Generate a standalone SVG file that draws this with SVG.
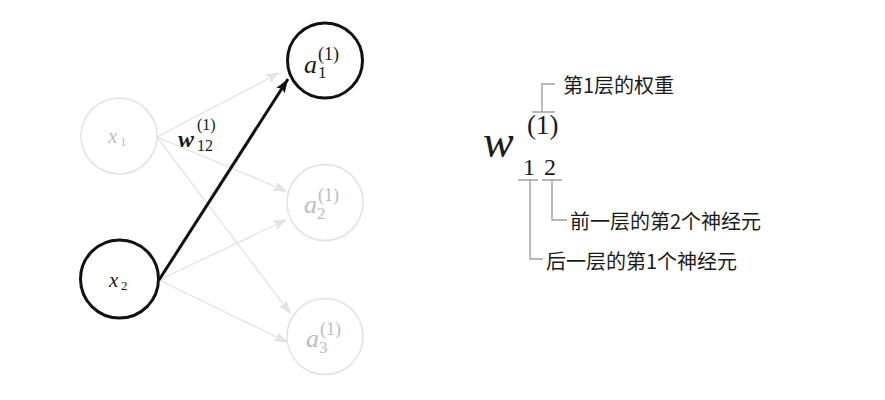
<svg xmlns="http://www.w3.org/2000/svg" width="885" height="400" viewBox="0 0 885 400">
  <style>
    .bg { fill: #ffffff; }
    .dark { fill: none; stroke: #111111; stroke-width: 3; }
    .light { fill: none; stroke: #e2e2e2; stroke-width: 1.5; }
    .edge { stroke: #e2e2e2; stroke-width: 1.3; fill: none; }
    .edge-bold { stroke: #111111; stroke-width: 3; fill: none; }
    .it { font-family: "Liberation Serif", "DejaVu Serif", serif; font-style: italic; }
    .rm { font-family: "Liberation Serif", "DejaVu Serif", serif; }
    .lt { fill: #bdbdbd; }
    .dk { fill: #1a1a1a; }
    .cjk { font-family: "Noto Sans CJK SC", "Noto Sans", sans-serif; font-size: 20px; fill: #1a1a1a; dominant-baseline: central; }
    .guide { stroke: #a0a0a0; stroke-width: 1.4; fill: none; }
  </style>
  <defs>
    <marker id="arrLight" markerUnits="userSpaceOnUse" markerWidth="14" markerHeight="10" refX="12" refY="5" orient="auto">
      <path d="M0,0.8 L12,5 L0,9.2 L3,5 Z" fill="#e6e6e6" stroke="#dcdcdc" stroke-width="0.8"/>
    </marker>
    <marker id="arrDark" markerUnits="userSpaceOnUse" markerWidth="16" markerHeight="12" refX="14" refY="6" orient="auto">
      <path d="M0,1 L14,6 L0,11 L3,6 Z" fill="#111111"/>
    </marker>
  </defs>
  <rect class="bg" x="0" y="0" width="885" height="400"/>

  <g id="connectors">
    <line class="edge" x1="157" y1="137" x2="279" y2="73" marker-end="url(#arrLight)"/>
    <line class="edge" x1="157" y1="137" x2="286" y2="191" marker-end="url(#arrLight)"/>
    <line class="edge" x1="157" y1="137" x2="290" y2="313" marker-end="url(#arrLight)"/>
    <line class="edge" x1="159" y1="280" x2="286" y2="220" marker-end="url(#arrLight)"/>
    <line class="edge" x1="159" y1="280" x2="287" y2="342" marker-end="url(#arrLight)"/>
    <line class="edge-bold" x1="159" y1="280" x2="288" y2="79" marker-end="url(#arrDark)"/>
  </g>

  <g id="w12-label">
    <text class="it dk" x="178" y="147" font-size="24" font-weight="bold">w</text>
    <text class="rm dk" x="197" y="130" font-size="16">(1)</text>
    <text class="rm dk" x="197" y="151" font-size="16">12</text>
  </g>

  <g id="node-x1">
    <circle class="light" cx="119" cy="136" r="38"/>
    <text class="it lt" x="108" y="143" font-size="21">x</text>
    <text class="rm lt" x="120" y="146" font-size="13">1</text>
  </g>
  <g id="node-x2">
    <circle class="dark" cx="119.5" cy="279" r="39"/>
    <text class="it dk" x="109" y="287" font-size="21">x</text>
    <text class="rm dk" x="121" y="290" font-size="13">2</text>
  </g>
  <g id="node-a1">
    <circle class="dark" cx="325" cy="60.5" r="37.5"/>
    <text class="it dk" x="304" y="73" font-size="26">a</text>
    <text class="rm dk" x="318" y="60" font-size="18">(1)</text>
    <text class="rm dk" x="318" y="78" font-size="17">1</text>
  </g>
  <g id="node-a2">
    <circle class="light" cx="325" cy="202.5" r="38"/>
    <text class="it lt" x="304" y="213" font-size="26">a</text>
    <text class="rm lt" x="318" y="201" font-size="18">(1)</text>
    <text class="rm lt" x="317" y="219" font-size="17">2</text>
  </g>
  <g id="node-a3">
    <circle class="light" cx="325" cy="336.5" r="38"/>
    <text class="it lt" x="306" y="347" font-size="26">a</text>
    <text class="rm lt" x="320" y="335" font-size="18">(1)</text>
    <text class="rm lt" x="319" y="353" font-size="17">3</text>
  </g>

  <g id="notation">
    <text class="it dk" x="483" y="157" font-size="46">w</text>
    <text class="rm dk" x="527" y="134" font-size="27">(1)</text>
    <text class="rm dk" x="523" y="175" font-size="24">1</text>
    <text class="rm dk" x="544" y="175" font-size="24">2</text>
  </g>
  <g id="guides">
    <path class="guide" d="M532,112 H555 M542,112 V84 H555"/>
    <path class="guide" d="M518,180 H538 M530,180 V259 H543"/>
    <path class="guide" d="M542,180 H562 M552,180 V220 H567"/>
  </g>
  <g id="label-layer">
    <text class="cjk" x="563" y="84">第1层的权重</text>
  </g>
  <g id="label-prev">
    <text class="cjk" x="570" y="220">前一层的第2个神经元</text>
  </g>
  <g id="label-next">
    <text class="cjk" x="546" y="260">后一层的第1个神经元</text>
  </g>
</svg>
